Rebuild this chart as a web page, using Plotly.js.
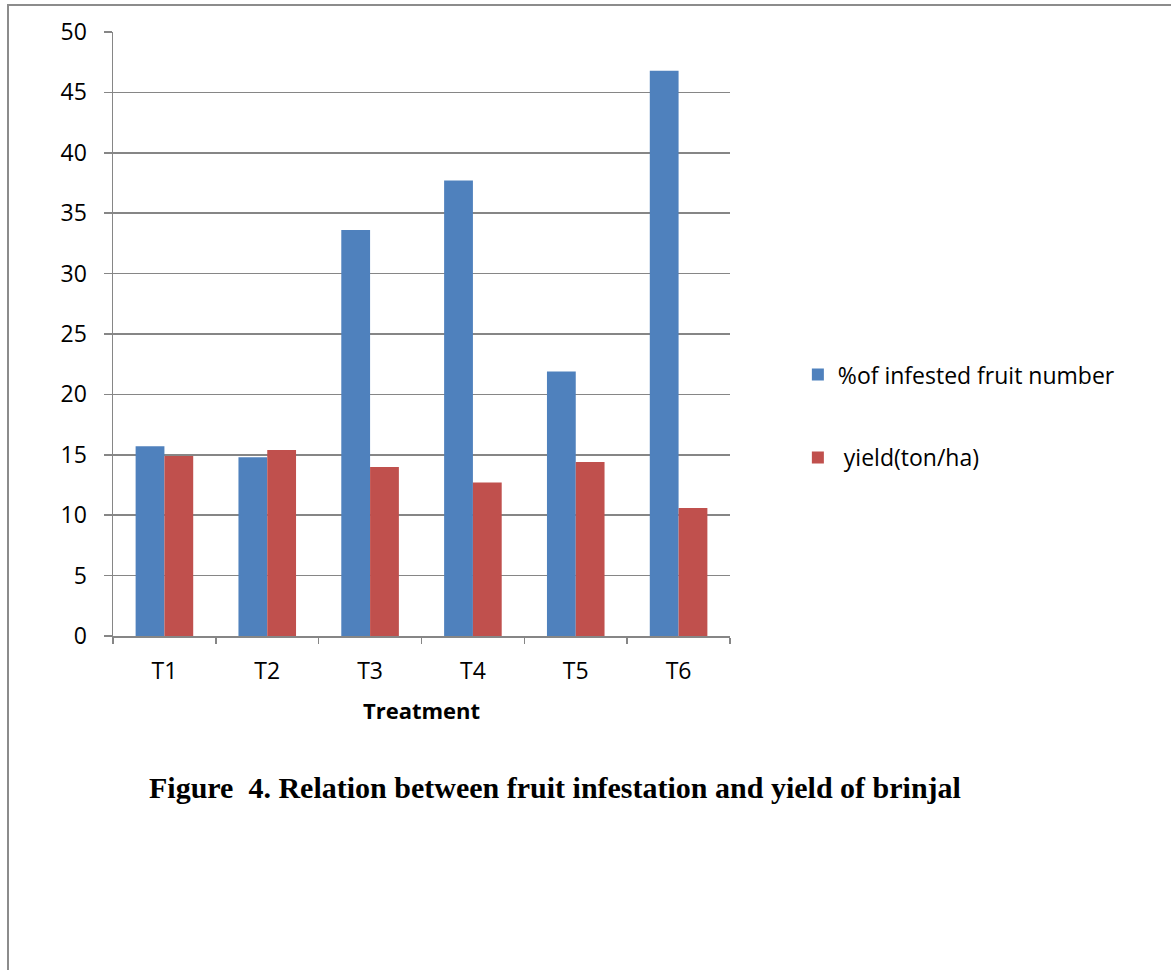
<!DOCTYPE html>
<html>
<head>
<meta charset="utf-8">
<script src="https://cdn.plot.ly/plotly-3.0.1.min.js"></script>
<style>
body{margin:0;padding:0;background:#fff;}
#frame{position:absolute;left:7px;top:4px;width:1200px;height:1000px;border-left:2px solid #8c8c8c;border-top:2px solid #8c8c8c;pointer-events:none;}
#chart{position:absolute;left:0;top:0;}
</style>
</head>
<body>
<div id="chart"></div>
<div id="frame"></div>
<script>
const categories = ["T1","T2","T3","T4","T5","T6"];
const infested = [15.7, 14.8, 33.6, 37.7, 21.9, 46.8];
const yieldVals = [14.9, 15.4, 14.0, 12.7, 14.4, 10.6];
const seriesNames = ["%of infested fruit number", "\u00a0yield(ton/ha)"];
const yTicks = [0,5,10,15,20,25,30,35,40,45,50];

const font = "Open Sans, Calibri, sans-serif";
const gridColor = "#868686";

const traces = [
  {type:"bar", x:categories, y:infested, name:seriesNames[0], legendgroup:"a",
   marker:{color:"#4F81BD"}, hoverinfo:"skip"},
  {type:"bar", x:categories, y:yieldVals, name:seriesNames[1], legendgroup:"b",
   marker:{color:"#C0504D"}, hoverinfo:"skip"}
];

const layout = {
  width:1171, height:970,
  margin:{l:113, r:441, t:32, b:334},
  paper_bgcolor:"rgba(0,0,0,0)", plot_bgcolor:"rgba(0,0,0,0)",
  barmode:"group", bargap:0.44, bargroupgap:0,
  font:{family:font, size:23, color:"#000"},
  xaxis:{type:"category", tickson:"boundaries", ticks:"outside", ticklen:6,
    tickcolor:gridColor, tickwidth:1.5, showline:true, linecolor:gridColor, linewidth:1.5,
    showgrid:false, tickfont:{size:23}, ticklabelstandoff:14,
    title:{text:"<b>Treatment</b>", font:{size:22}, standoff:18}},
  yaxis:{range:[0,50], tickvals:yTicks, ticks:"outside", ticklen:8,
    tickcolor:gridColor, tickwidth:1.5, showline:true, linecolor:gridColor, linewidth:1.5,
    showgrid:true, gridcolor:gridColor, gridwidth:1.5, zeroline:false, tickfont:{size:23},
    ticklabelstandoff:12},
  legend:{x:1.11, xanchor:"left", y:0.364, yanchor:"middle", tracegroupgap:50,
    font:{size:23}, bgcolor:"rgba(0,0,0,0)"},
  annotations:[{xref:"paper", yref:"paper", x:(555-113)/617, y:(636-787)/604,
    xanchor:"center", yanchor:"middle", showarrow:false,
    text:"<b>Figure  4. Relation between fruit infestation and yield of brinjal</b>",
    font:{family:"Liberation Serif, Times New Roman, serif", size:30, color:"#000"}}]
};

Plotly.newPlot("chart", traces, layout, {displayModeBar:false, staticPlot:true});
</script>
</body>
</html>
